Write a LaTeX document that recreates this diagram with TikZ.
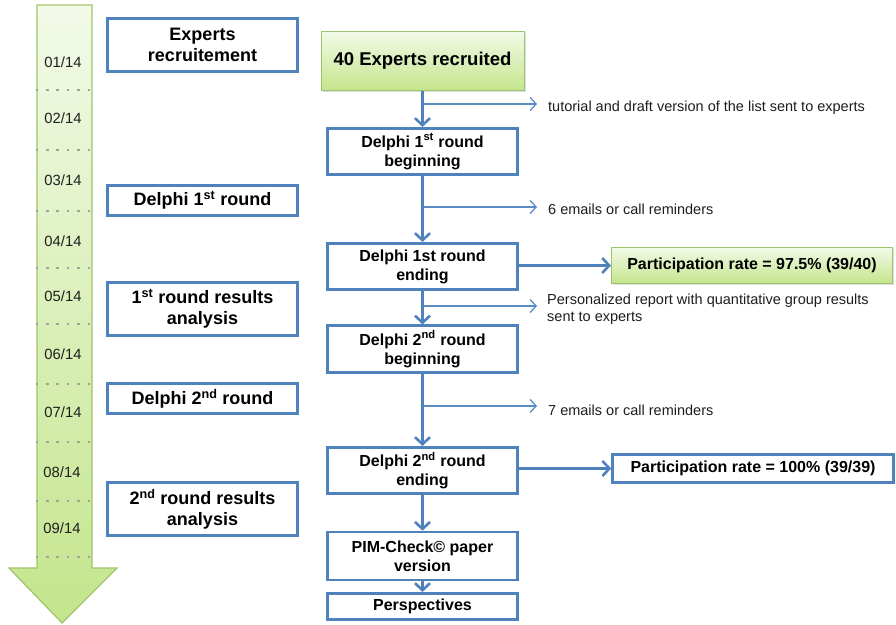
\documentclass[tikz,border=0pt]{standalone}
\usepackage{fontspec}
\setmainfont{Liberation Sans}
\usetikzlibrary{arrows.meta,shadows}
\definecolor{bblue}{HTML}{4F81BD}
\definecolor{lblue}{HTML}{5B8CC6}
\definecolor{gborder}{HTML}{A0C46C}
\definecolor{gtop}{HTML}{F2FAE8}
\definecolor{gbot}{HTML}{C4E58C}
\definecolor{dotgray}{HTML}{9EA596}
\definecolor{txt}{HTML}{1E1E1E}
\begin{document}
\begin{tikzpicture}[x=1pt,y=-1pt,
  lbox/.style={draw=bblue,line width=2.6pt,fill=white,minimum width=190pt,inner sep=0pt,align=center,font=\fontsize{18}{21}\selectfont\bfseries},
  cbox/.style={draw=bblue,line width=2.6pt,fill=white,minimum width=190pt,minimum height=46.5pt,inner sep=0pt,align=center,font=\fontsize{16}{19}\selectfont\bfseries},
  gbox/.style={draw=gborder,line width=1pt,top color=gtop,bottom color=gbot,inner sep=0pt,align=center,drop shadow={opacity=0.25,shadow xshift=1.5pt,shadow yshift=-1.5pt}},
  month/.style={font=\fontsize{14.8}{16}\selectfont,text=txt,inner sep=0pt},
  note/.style={font=\fontsize{14.5}{17}\selectfont,text=txt,inner sep=0pt,anchor=west,align=left},
  flow/.style={draw=bblue,line width=2.6pt,-{Straight Barb[length=7pt,width=15pt,line width=2.6pt]}},
  branch/.style={draw=lblue,line width=1.3pt,-{Straight Barb[length=6pt,width=13pt,line width=1.3pt]}},
  sep/.style={draw=dotgray,line width=2.6pt,dash pattern=on 2.6pt off 7.8pt}
]
\useasboundingbox (0,0) rectangle (896,624);
\fill[white] (0,0) rectangle (896,624);

% timeline arrow
\draw[draw=gborder,line width=1.2pt,top color=gtop,bottom color=gbot]
  (37,5) -- (92,5) -- (92,568) -- (117,568) -- (62,623) -- (9,568) -- (37,568) -- cycle;
\foreach \yy in {90,150,211,268,324,384,442,501,557}
  \draw[sep] (35.5,\yy) -- (93,\yy);
\node[month] (m1) at (63,62) {01/14};
\node[month] (m2) at (63,118) {02/14};
\node[month] (m3) at (63,180) {03/14};
\node[month] (m4) at (63,241) {04/14};
\node[month] (m5) at (63,296) {05/14};
\node[month] (m6) at (63,354) {06/14};
\node[month] (m7) at (63,412) {07/14};
\node[month] (m8) at (62,472) {08/14};
\node[month] (m9) at (62,528) {09/14};

% left boxes
\node[lbox,minimum height=53.5pt] (l1) at (202.5,45) {Experts\\recruitement};
\node[lbox,minimum height=30.5pt] (l2) at (202.5,200.5) {Delphi 1\textsuperscript{st} round};
\node[lbox,minimum height=53.5pt] (l3) at (202.5,309) {1\textsuperscript{st} round results\\analysis};
\node[lbox,minimum height=30.5pt] (l4) at (202.5,398.5) {Delphi 2\textsuperscript{nd} round};
\node[lbox,minimum height=53.5pt] (l5) at (202.5,509) {2\textsuperscript{nd} round results\\analysis};

% centre column
\node[gbox,minimum width=203pt,minimum height=59pt,font=\fontsize{18.5}{21}\selectfont\bfseries] (b0) at (422.5,61) {40 Experts recruited};
\node[cbox] (b1) at (422.5,151.5) {Delphi 1\textsuperscript{st} round\\beginning};
\node[cbox] (b2) at (422.5,266.5) {Delphi 1st round\\ending};
\node[cbox] (b3) at (422.5,349) {Delphi 2\textsuperscript{nd} round\\beginning};
\node[cbox] (b4) at (422.5,470.5) {Delphi 2\textsuperscript{nd} round\\ending};
\node[cbox,minimum height=48pt] (b5) at (422.5,556) {PIM-Check© paper\\version};
\node[cbox,minimum height=26.5pt] (b6) at (422.5,606.5) {Perspectives};

% participation boxes
\node[gbox,minimum width=281pt,minimum height=36pt,font=\fontsize{16}{19}\selectfont\bfseries] (p1) at (752,265.5) {Participation rate = 97.5\% (39/40)};
\node[draw=bblue,line width=2.6pt,fill=white,minimum width=281pt,minimum height=28pt,inner sep=0pt,font=\fontsize{16}{19}\selectfont\bfseries] (p2) at (753,468.5) {Participation rate = 100\% (39/39)};

% main flow
\draw[flow] (b0) -- (b1);
\draw[flow] (b1) -- (b2);
\draw[flow] (b2) -- (b3);
\draw[flow] (b3) -- (b4);
\draw[flow] (b4) -- (b5);
\draw[flow] (b5) -- (b6);
\draw[flow] (b2.east |- p1.west) -- (p1.west);
\draw[flow] (b4.east |- p2.west) -- (p2.west);

% side notes
\coordinate (t1) at (537,104);
\coordinate (t2) at (537,207);
\coordinate (t3) at (537,306);
\coordinate (t4) at (537,406);
\draw[branch] (b0.south |- t1) -- (t1);
\draw[branch] (b1.south |- t2) -- (t2);
\draw[branch] (b2.south |- t3) -- (t3);
\draw[branch] (b3.south |- t4) -- (t4);
\node[note] (n1) at (548,107.5) {tutorial and draft version of the list sent to experts};
\node[note] (n2) at (548,209.5) {6 emails or call reminders};
\node[note] (n3) at (547,309) {Personalized report with quantitative group results\\sent to experts};
\node[note] (n4) at (548,410) {7 emails or call reminders};
\end{tikzpicture}
\end{document}
